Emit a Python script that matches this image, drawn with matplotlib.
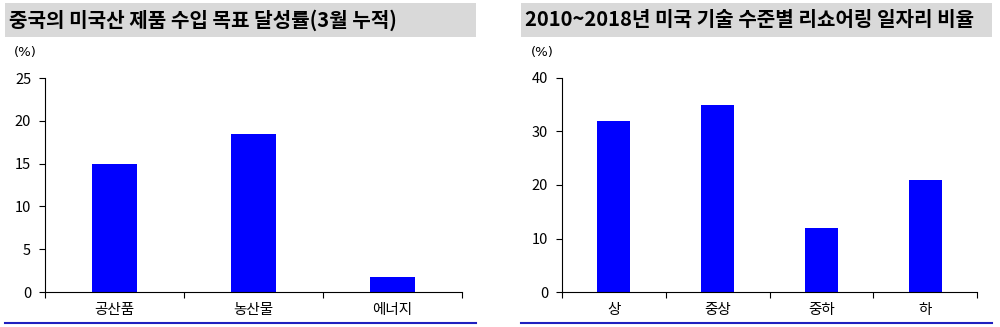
import matplotlib.pyplot as plt
from matplotlib.patches import Rectangle
from matplotlib.lines import Line2D

plt.rcParams['font.family'] = ['Noto Sans CJK KR', 'DejaVu Sans']

# 왼쪽: 중국의 미국산 제품 수입 목표 달성률
left_title = '중국의 미국산 제품 수입 목표 달성률(3월 누적)'
left_cats = ['공산품', '농산물', '에너지']
left_vals = [15.0, 18.5, 1.8]
left_ticks = [0, 5, 10, 15, 20, 25]

# 오른쪽: 미국 기술 수준별 리쇼어링 일자리 비율
right_title = '2010~2018년 미국 기술 수준별 리쇼어링 일자리 비율'
right_cats = ['상', '중상', '중하', '하']
right_vals = [32, 35, 12, 21]
right_ticks = [0, 10, 20, 30, 40]

W, H = 1000, 327
fig = plt.figure(figsize=(W / 100, H / 100), dpi=100)


def px(x0, y0, x1, y1):
    # 픽셀 좌표(위에서부터) -> figure 좌표
    return [x0 / W, 1 - y1 / H, (x1 - x0) / W, (y1 - y0) / H]


def panel(title, cats, vals, ticks, band, box):
    bx0, bx1 = band
    # 제목 배경
    fig.patches.append(Rectangle((bx0 / W, 1 - 37 / H), (bx1 - bx0) / W, 34 / H,
                                 transform=fig.transFigure, facecolor='#d9d9d9',
                                 edgecolor='none'))
    fig.text((bx0 + 4) / W, 1 - 20 / H, title, fontsize=14.5, fontweight='bold',
             va='center', ha='left')
    # 아래 파란 선
    fig.add_artist(Line2D([bx0 / W, bx1 / W], [1 - 323 / H] * 2,
                          transform=fig.transFigure, color='#1f1fbf', lw=1.5))

    ax = fig.add_axes(px(*box))
    n = len(cats)
    ax.bar(range(n), vals, width=0.32, color='#0000ff')
    ax.set_xlim(-0.5, n - 0.5)
    ax.set_ylim(0, ticks[-1])
    ax.set_yticks(ticks)
    ax.set_xticks([i - 0.5 for i in range(n + 1)])
    ax.set_xticklabels([])
    ax.set_xticks(range(n), minor=True)
    ax.set_xticklabels(cats, minor=True, fontsize=10.5)
    ax.tick_params(axis='x', which='minor', length=0, pad=8)
    ax.tick_params(axis='x', which='major', length=4, direction='out')
    ax.tick_params(axis='y', length=4, direction='out', labelsize=10.5, pad=6)
    for s in ['top', 'right']:
        ax.spines[s].set_visible(False)
    ax.text(-0.02, 1.12, '(%)', transform=ax.transAxes, ha='right',
            va='center', fontsize=9.5, family='DejaVu Sans')
    return ax


panel(left_title, left_cats, left_vals, left_ticks, (5, 476), (45, 78, 462, 292))
panel(right_title, right_cats, right_vals, right_ticks, (521, 992), (562, 78, 977, 292))

fig.savefig('out.png', dpi=100)
